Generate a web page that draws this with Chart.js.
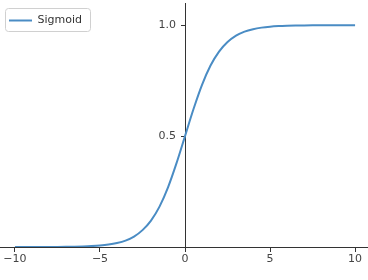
<!DOCTYPE html>
<html>
<head>
<meta charset="utf-8">
<script src="https://cdn.jsdelivr.net/npm/chart.js@4"></script>
<style>
  html, body { margin: 0; padding: 0; background: #fff; }
  #wrap { width: 368px; height: 280px; position: relative; }
</style>
</head>
<body>
<div id="wrap"><canvas id="thisChart"></canvas></div>
<script>
// sigmoid curve, step 0.5
let xs = [-10,-9.5,-9,-8.5,-8,-7.5,-7,-6.5,-6,-5.5,-5,-4.5,-4,-3.5,-3,-2.5,-2,-1.5,-1,-0.5,
          0,0.5,1,1.5,2,2.5,3,3.5,4,4.5,5,5.5,6,6.5,7,7.5,8,8.5,9,9.5,10]
let sig = [0.00005,0.00007,0.00012,0.0002,0.00034,0.00055,0.0009,0.0015,0.0025,0.0041,
           0.0067,0.011,0.018,0.029,0.047,0.076,0.119,0.182,0.269,0.378,
           0.5,0.622,0.731,0.818,0.881,0.924,0.953,0.971,0.982,0.989,
           0.9933,0.9959,0.9975,0.9985,0.9991,0.99945,0.99966,0.9998,0.99988,0.99993,0.99995]
let xTicks = [-10,-5,0,5,10]
let yTicks = [0.5,1.0]
let label = "Sigmoid"

const lineColor = "#4a8cc4"
const axisColor = "#333"

Chart.defaults.font.family = "'DejaVu Sans', sans-serif"
Chart.defaults.font.size = 11
Chart.defaults.color = "#444"

// legend moved down a bit + matplotlib style frame, y labels pushed off the spine
const tweaks = {
  id: "tweaks",
  afterLayout(chart) {
    chart.legend.top += 6
    chart.legend.bottom += 6
  },
  beforeDraw(chart) {
    chart.scales.y.getLabelItems().forEach(it => {
      if (!it._moved) { it.options.translation[0] -= 9; it._moved = true }
    })
  },
  afterDraw(chart) {
    const lg = chart.legend
    const ctx = chart.ctx
    ctx.save()
    ctx.strokeStyle = "#d0d0d0"
    ctx.lineWidth = 1
    ctx.beginPath()
    ctx.roundRect(5.5, 8.5, 85, 23, 3)
    ctx.stroke()
    ctx.restore()
  }
}

const data = {
  datasets: [{
    label: label,
    data: xs.map((x, i) => ({x: x, y: sig[i]})),
    borderColor: lineColor,
    backgroundColor: lineColor,
    borderWidth: 2,
    pointRadius: 0,
    cubicInterpolationMode: "monotone",
    fill: false,
  }]
}

const config = {
  type: "line",
  data,
  plugins: [tweaks],
  options: {
    responsive: false,
    animation: false,
    layout: { padding: { top: 3, bottom: 33, left: 0, right: 0 } },
    plugins: {
      tooltip: { enabled: false },
      legend: {
        position: "chartArea",
        align: "start",
        labels: {
          boxWidth: 23,
          boxHeight: 2,
          padding: 9,
          color: "#333",
          font: { size: 11 },
          generateLabels: (chart) =>
            Chart.defaults.plugins.legend.labels.generateLabels(chart).map(l => ({...l, lineWidth: 0})),
        },
      },
    },
    scales: {
      x: {
        type: "linear",
        position: { y: 0 },
        min: -10.88,
        max: 10.76,
        afterBuildTicks: (s) => { s.ticks = xTicks.map(v => ({value: v})) },
        ticks: {
          padding: 2,
          maxRotation: 0,
          callback: (v) => String(v).replace("-", "\u2212"),
        },
        grid: { drawOnChartArea: false, tickLength: 4, color: axisColor },
        border: { color: axisColor, width: 1 },
      },
      y: {
        type: "linear",
        position: { x: 0 },
        min: 0,
        max: 1.1,
        afterBuildTicks: (s) => { s.ticks = yTicks.map(v => ({value: v})) },
        afterFit: (s) => { s.paddingTop = 0; s.paddingBottom = 0 },
        ticks: {
          padding: 2,
          callback: (v) => v.toFixed(1),
        },
        grid: { drawOnChartArea: false, tickLength: 4, color: axisColor },
        border: { color: axisColor, width: 1 },
      },
    },
  },
}

const canvas = document.getElementById("thisChart")
canvas.width = 368
canvas.height = 280
const lineChart = new Chart(canvas.getContext("2d"), config)
</script>
</body>
</html>
